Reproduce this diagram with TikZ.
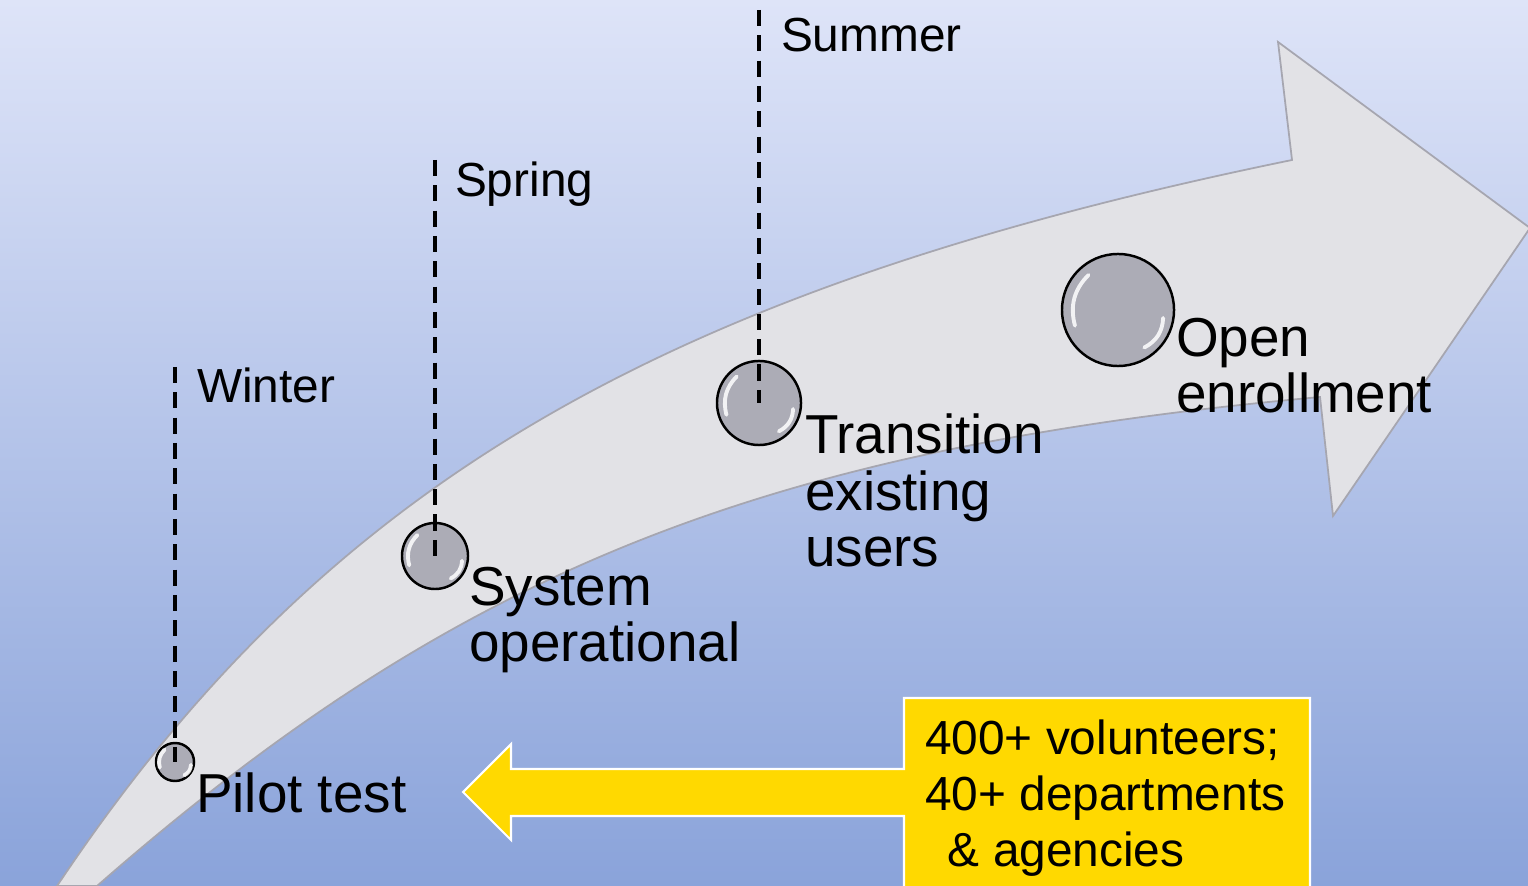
\documentclass[tikz,border=0pt]{standalone}
\usepackage{fontspec}
\setmainfont{Liberation Sans}
\usepackage{tikz}
\usetikzlibrary{calc,positioning}
\definecolor{skytop}{RGB}{222,228,248}
\definecolor{skybot}{RGB}{138,163,218}
\definecolor{bandfill}{RGB}{226,226,230}
\definecolor{bandline}{RGB}{166,166,176}
\definecolor{bubgray}{RGB}{172,172,182}
\definecolor{gold}{RGB}{255,217,0}
\tikzset{season/.style={anchor=base west,inner sep=0pt,font=\fontsize{13.6}{16}\selectfont}}

\begin{document}
\begin{tikzpicture}[x=0.01cm,y=-0.01cm,semithick,
                    every node/.style={text=black}]
  \tikzstyle{bubble}=[circle,draw=black,line width=0.7pt,fill=bubgray,inner sep=0pt]
  \tikzstyle{gloss}=[white,line width=1.1pt,line cap=round,opacity=0.85]
  \tikzstyle{tick}=[black,line width=1.4pt,dash pattern=on 4.6pt off 2.6pt]
  \tikzstyle{stage}=[anchor=base west,inner sep=0pt,align=left,font=\fontsize{15.6}{16.1}\selectfont]

  \useasboundingbox (0,0) rectangle (1528,886);
  \shade[top color=skytop,bottom color=skybot] (0,0) rectangle (1528,886);

  % timeline band
  \filldraw[fill=bandfill,draw=bandline,line width=0.5pt]
    (57,886) .. controls (324,486) and (658,290) .. (1292,160)
    -- (1278,42) -- (1530,228) -- (1333,516) -- (1320,397)
    .. controls (764,448) and (458,570) .. (97,886) -- cycle;

  \node[bubble,minimum size=0.38cm]  (0) at (175,762)  {};
  \node[bubble,minimum size=0.66cm]  (1) at (435,556)  {};
  \node[bubble,minimum size=0.84cm]  (2) at (759,403)  {};
  \node[bubble,minimum size=1.12cm]  (3) at (1118,310) {};

  \foreach \n in {0,1,2,3} {
    \draw[gloss] ($(\n.center)!0.8!(\n.200)$) to[bend left=30] ($(\n.center)!0.8!(\n.130)$);
    \draw[gloss] ($(\n.center)!0.8!(\n.-10)$) to[bend left=30] ($(\n.center)!0.8!(\n.-55)$);
  }

  \coordinate (t0) at (175,367);
  \coordinate (t1) at (435,160);
  \coordinate (t2) at (759,10);

  \path (t0) edge[tick] (0.center);
  \path (t1) edge[tick] (1.center);
  \path (t2) edge[tick] (2.center);

  \node[season] (s0) at (196,403) {Winter};
  \node[season] (s1) at (454,197) {Spring};
  \node[season] (s2) at (780,52)  {Summer};

  \node[stage] (l0) at (195,812)  {Pilot test};
  \node[stage] (l1) at (468,662)  {System\\operational};
  \node[stage] (l2) at (804,567)  {Transition\\existing\\users};
  \node[stage] (l3) at (1175,413) {Open\\enrollment};

  % helpers box
  \filldraw[fill=gold,draw=white,line width=0.6pt]
    (904,698) -- (1310,698) -- (1310,900) -- (904,900) -- (904,816)
    -- (511,816) -- (511,840) -- (463,792) -- (511,744) -- (511,769)
    -- (904,769) -- cycle;
  \node[season,align=left,font=\fontsize{13.6}{15.9}\selectfont] (vol) at (924,866)
    {400+ volunteers;\\40+ departments\\\hspace{6.5pt}\& agencies};

\end{tikzpicture}
\end{document}
